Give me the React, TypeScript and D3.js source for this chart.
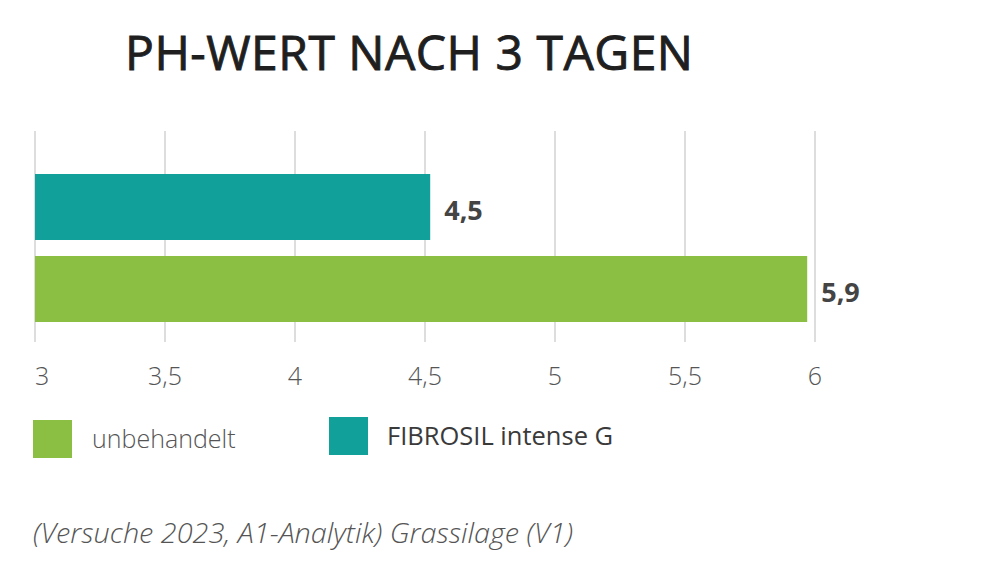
import React, { useEffect, useRef } from 'react';
import * as d3 from 'd3';

const categories = ['FIBROSIL intense G', 'unbehandelt'];
const values = [4.52, 5.97];
const valueLabels = ['4,5', '5,9'];
const colors = ['#12a09a', '#8bbf43'];
const ticks = [3, 3.5, 4, 4.5, 5, 5.5, 6];
const legendOrder = ['unbehandelt', 'FIBROSIL intense G'];

const W = 1005;
const H = 574;

export default function App() {
  const svgRef = useRef<SVGSVGElement>(null);

  useEffect(() => {
    if (!svgRef.current) return;
    const svg = d3.select(svgRef.current);
    svg.selectAll('*').remove();

    const x = d3.scaleLinear().domain([3, 6]).range([35, 815]);
    const y = d3.scaleBand().domain(categories).range([165.8, 330.2]).paddingInner(0.195).paddingOuter(0.1);

    svg.append('text')
      .attr('x', 125)
      .attr('y', 70)
      .attr('font-family', 'Open Sans, sans-serif')
      .attr('font-size', 48)
      .attr('font-weight', 400)
      .attr('fill', '#1f1f1f')
      .attr('stroke', '#1f1f1f')
      .attr('stroke-width', 0.9)
      .attr('textLength', 568)
      .attr('lengthAdjust', 'spacing')
      .text('PH-WERT NACH 3 TAGEN');

    // gridlines
    svg.append('g')
      .selectAll('line')
      .data(ticks)
      .join('line')
      .attr('x1', d => x(d))
      .attr('x2', d => x(d))
      .attr('y1', 131)
      .attr('y2', 342)
      .attr('stroke', '#d2d2d2')
      .attr('stroke-width', 1.5);

    // tick labels
    svg.append('g')
      .selectAll('text')
      .data(ticks)
      .join('text')
      .attr('x', d => x(d))
      .attr('y', 385)
      .attr('text-anchor', (_, i) => (i === 0 ? 'start' : 'middle'))
      .attr('font-family', 'Open Sans, sans-serif')
      .attr('font-size', 25)
      .attr('font-weight', 300)
      .attr('fill', '#555')
      .text(d => String(d).replace('.', ','));

    // bars
    svg.append('g')
      .selectAll('rect')
      .data(categories)
      .join('rect')
      .attr('x', x(3))
      .attr('y', d => y(d)!)
      .attr('width', (_, i) => x(values[i]) - x(3))
      .attr('height', y.bandwidth())
      .attr('fill', (_, i) => colors[i]);

    svg.append('g')
      .selectAll('text')
      .data(categories)
      .join('text')
      .attr('x', (_, i) => x(values[i]) + 14)
      .attr('y', d => y(d)! + y.bandwidth() / 2 + 4)
      .attr('dy', '0.35em')
      .attr('font-family', 'Open Sans, sans-serif')
      .attr('font-size', 27)
      .attr('font-weight', 700)
      .attr('fill', '#444')
      .text((_, i) => valueLabels[i]);

    // legend
    const legendX = [33, 329];
    const legend = svg.append('g')
      .selectAll('g')
      .data(legendOrder)
      .join('g')
      .attr('transform', (_, i) => `translate(${legendX[i]},${i === 0 ? 420 : 417})`);

    legend.append('rect')
      .attr('width', 39)
      .attr('height', 38)
      .attr('fill', d => colors[categories.indexOf(d)]);

    legend.append('text')
      .attr('x', (_, i) => (i === 0 ? 59 : 58))
      .attr('y', 19)
      .attr('dy', '0.35em')
      .attr('font-family', 'Open Sans, sans-serif')
      .attr('font-size', (_, i) => (i === 0 ? 25 : 25.5))
      .attr('font-weight', (_, i) => (i === 0 ? 300 : 400))
      .attr('fill', (_, i) => (i === 0 ? '#555' : '#3a3a3a'))
      .text(d => d);

    svg.append('text')
      .attr('x', 33)
      .attr('y', 543)
      .attr('font-family', 'Open Sans, sans-serif')
      .attr('font-size', 27)
      .attr('font-style', 'italic')
      .attr('font-weight', 300)
      .attr('fill', '#555')
      .attr('textLength', 540)
      .attr('lengthAdjust', 'spacingAndGlyphs')
      .text('(Versuche 2023, A1-Analytik) Grassilage (V1)');
  }, []);

  return (
    <svg ref={svgRef} width={W} height={H} style={{ position: 'absolute', left: 0, top: 0, background: '#fff' }} />
  );
}
